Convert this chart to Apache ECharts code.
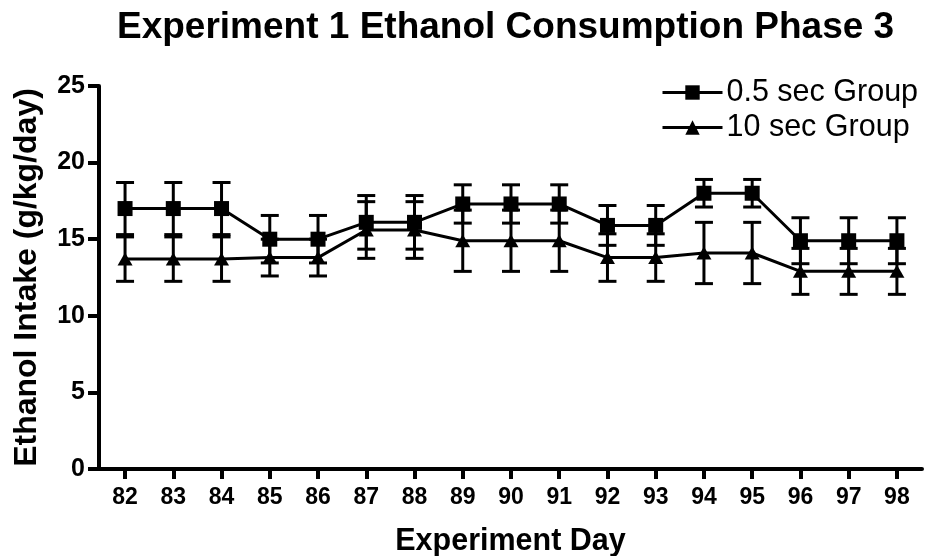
<!DOCTYPE html>
<html>
<head>
<meta charset="utf-8">
<script src="https://cdn.jsdelivr.net/npm/echarts@6/dist/echarts.min.js"></script>
<style>
html,body{margin:0;padding:0;background:#fff;}
#chart{width:931px;height:556px;}
</style>
</head>
<body>
<div id="chart"></div>
<script>
var days = [82, 83, 84, 85, 86, 87, 88, 89, 90, 91, 92, 93, 94, 95, 96, 97, 98];
var yTicks = [0, 5, 10, 15, 20, 25];
var group05Name = '0.5 sec Group';
var group05Mean = [17.0, 17.0, 17.0, 15.0, 15.0, 16.1, 16.1, 17.3, 17.3, 17.3, 15.9, 15.9, 18.0, 18.0, 14.9, 14.9, 14.9];
var group05Sem  = [1.7, 1.7, 1.7, 1.55, 1.55, 1.75, 1.75, 1.25, 1.25, 1.25, 1.3, 1.3, 0.9, 0.9, 1.5, 1.5, 1.5];
var group10Name = '10 sec Group';
var group10Mean = [13.7, 13.7, 13.7, 13.8, 13.8, 15.6, 15.6, 14.9, 14.9, 14.9, 13.8, 13.8, 14.1, 14.1, 12.9, 12.9, 12.9];
var group10Sem  = [1.45, 1.45, 1.45, 1.2, 1.2, 1.85, 1.85, 2.0, 2.0, 2.0, 1.55, 1.55, 2.0, 2.0, 1.5, 1.5, 1.5];

var FONT = '"Liberation Sans", Arial, Helvetica, sans-serif';

function pairs(mean) {
  return days.map(function (d, i) { return [d, mean[i]]; });
}
function errData(mean, sem) {
  return days.map(function (d, i) { return [d, mean[i] - sem[i], mean[i] + sem[i]]; });
}
function errRender(params, api) {
  var x = api.value(0);
  var lo = api.coord([x, api.value(1)]);
  var hi = api.coord([x, api.value(2)]);
  var cap = 9;
  var st = { stroke: '#000', lineWidth: 3 };
  return {
    type: 'group',
    children: [
      { type: 'line', shape: { x1: lo[0], y1: lo[1], x2: hi[0], y2: hi[1] }, style: st },
      { type: 'line', shape: { x1: lo[0] - cap, y1: lo[1], x2: lo[0] + cap, y2: lo[1] }, style: st },
      { type: 'line', shape: { x1: hi[0] - cap, y1: hi[1], x2: hi[0] + cap, y2: hi[1] }, style: st }
    ]
  };
}

var chart = echarts.init(document.getElementById('chart'), null, { renderer: 'canvas' });
chart.setOption({
  animation: false,
  backgroundColor: '#fff',
  title: {
    text: 'Experiment 1 Ethanol Consumption Phase 3',
    left: 112, top: 4,
    textStyle: { fontFamily: FONT, fontSize: 37, fontWeight: 'bold', color: '#000' }
  },
  legend: {
    orient: 'vertical',
    left: 656, top: 72,
    itemWidth: 60, itemHeight: 18, itemGap: 4,
    lineStyle: { width: 3, color: '#000' },
    textStyle: { fontFamily: FONT, fontSize: 30.5, color: '#000', padding: [0, 0, 0, -1] },
    data: [group05Name, group10Name]
  },
  grid: { left: 99, top: 86, right: 9, bottom: 87, outerBoundsMode: 'none', containLabel: false },
  xAxis: {
    type: 'value',
    min: 81.46, max: 98.52,
    name: 'Experiment Day',
    nameLocation: 'middle',
    nameGap: 57,
    nameMoveOverlap: false,
    nameTextStyle: { fontFamily: FONT, fontSize: 30.5, fontWeight: 'bold', color: '#000' },
    splitLine: { show: false },
    axisLine: { show: true, lineStyle: { color: '#000', width: 4 } },
    axisTick: { show: true, length: 10, lineStyle: { color: '#000', width: 4 }, customValues: days },
    axisLabel: { customValues: days, margin: 17, fontFamily: FONT, fontSize: 23, fontWeight: 'bold', color: '#000' }
  },
  yAxis: {
    type: 'value',
    min: 0, max: 25, interval: 5,
    name: 'Ethanol Intake (g/kg/day)',
    nameLocation: 'middle',
    nameGap: 56,
    nameRotate: 90,
    nameMoveOverlap: false,
    nameTextStyle: { fontFamily: FONT, fontSize: 32, fontWeight: 'bold', color: '#000' },
    splitLine: { show: false },
    axisLine: { show: true, lineStyle: { color: '#000', width: 4 } },
    axisTick: { show: true, length: 11, lineStyle: { color: '#000', width: 4 }, customValues: yTicks },
    axisLabel: { customValues: yTicks, margin: 14, fontFamily: FONT, fontSize: 25, fontWeight: 'bold', color: '#000' }
  },
  series: [
    {
      type: 'custom', name: group10Name + ' err', renderItem: errRender,
      data: errData(group10Mean, group10Sem), z: 2, silent: true,
      encode: { x: 0, y: [1, 2] }
    },
    {
      type: 'custom', name: group05Name + ' err', renderItem: errRender,
      data: errData(group05Mean, group05Sem), z: 2, silent: true,
      encode: { x: 0, y: [1, 2] }
    },
    {
      type: 'line', name: group10Name, data: pairs(group10Mean), z: 3,
      symbol: 'triangle', symbolSize: [15, 13],
      lineStyle: { color: '#000', width: 3 },
      itemStyle: { color: '#000', borderWidth: 0 }
    },
    {
      type: 'line', name: group05Name, data: pairs(group05Mean), z: 4,
      symbol: 'rect', symbolSize: 15,
      lineStyle: { color: '#000', width: 3 },
      itemStyle: { color: '#000', borderWidth: 0 }
    }
  ]
});
</script>
</body>
</html>
